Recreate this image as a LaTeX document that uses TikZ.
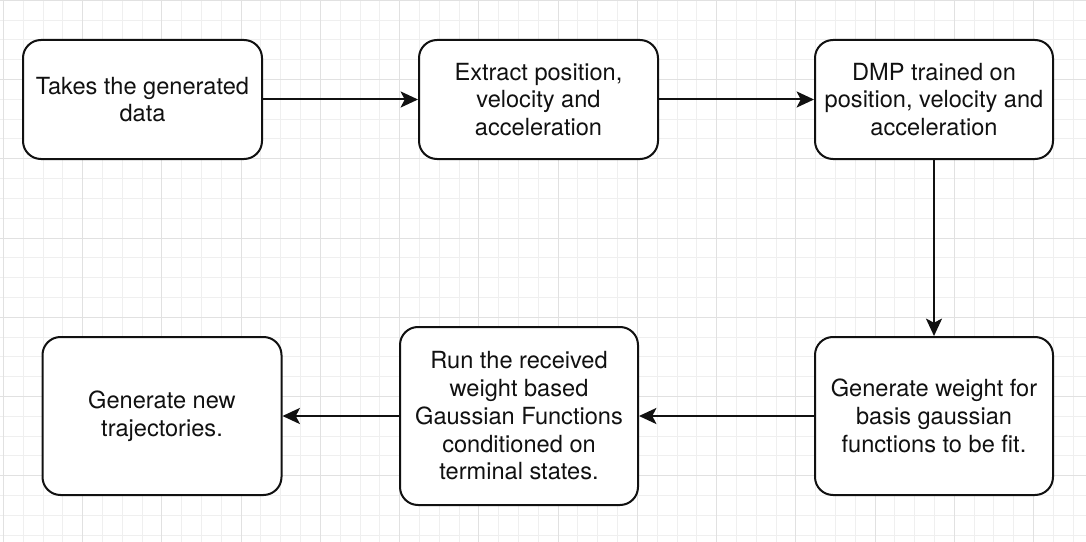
\documentclass[tikz,border=0pt]{standalone}
\usepackage{fontspec}
\setmainfont{TeX Gyre Heros}
\usetikzlibrary{arrows.meta}
\definecolor{gridminor}{HTML}{EFEFEF}
\definecolor{gridmajor}{HTML}{E1E1E1}
\definecolor{ink}{HTML}{111111}
\tikzset{
  stepbox/.style={draw=ink, line width=1.5pt, rounded corners=13.5pt, fill=white,
    align=center, inner sep=0pt, text=ink,
    font=\fontsize{17.7}{20.8}\selectfont},
  flow/.style={draw=ink, line width=1.5pt,
    -{Stealth[length=13pt, width=12pt, inset=3pt]}},
  gminor/.style={draw=gridminor, line width=0.75pt},
  gmajor/.style={draw=gridmajor, line width=0.75pt},
}
\begin{document}
\begin{tikzpicture}[x=0.75pt,y=-0.75pt]
\useasboundingbox (0,0) rectangle (1086,542);
\fill[white] (0,0) rectangle (1086,542);
% grid
\foreach \i in {0,...,55} {
  \draw[gminor] ({3.46+19.81*\i},0) -- ({3.46+19.81*\i},542);
}
\foreach \j in {0,...,27} {
  \draw[gminor] (0,{0.3+19.81*\j}) -- (1086,{0.3+19.81*\j});
}
\foreach \i in {0,...,13} {
  \draw[gmajor] ({3.46+79.24*\i},0) -- ({3.46+79.24*\i},542);
}
\foreach \j in {0,...,6} {
  \draw[gmajor] (0,{0.3+79.24*\j}) -- (1086,{0.3+79.24*\j});
}
% boxes
\node[stepbox, minimum width=179.25pt, minimum height=89.25pt] (a) at (142.5,99.5)
  {Takes the generated\\data};
\node[stepbox, minimum width=179.25pt, minimum height=89.25pt] (b) at (538.5,99.5)
  {Extract position,\\velocity and\\acceleration};
\node[stepbox, minimum width=178.5pt, minimum height=89.25pt] (c) at (934,99.5)
  {DMP trained on\\position, velocity and\\acceleration};
\node[stepbox, minimum width=178.5pt, minimum height=118.5pt] (d) at (934,416)
  {Generate weight for\\basis gaussian\\functions to be fit.};
\node[stepbox, minimum width=178.5pt, minimum height=133.5pt] (e) at (519,416)
  {Run the received\\weight based\\Gaussian Functions\\conditioned on\\terminal states.};
\node[stepbox, minimum width=179.25pt, minimum height=118.5pt] (f) at (162,416)
  {Generate new\\trajectories.};
% connectors
\draw[flow] (a) -- (b);
\draw[flow] (b) -- (c);
\draw[flow] (c) -- (d);
\draw[flow] (d) -- (e);
\draw[flow] (e) -- (f);
\end{tikzpicture}
\end{document}
